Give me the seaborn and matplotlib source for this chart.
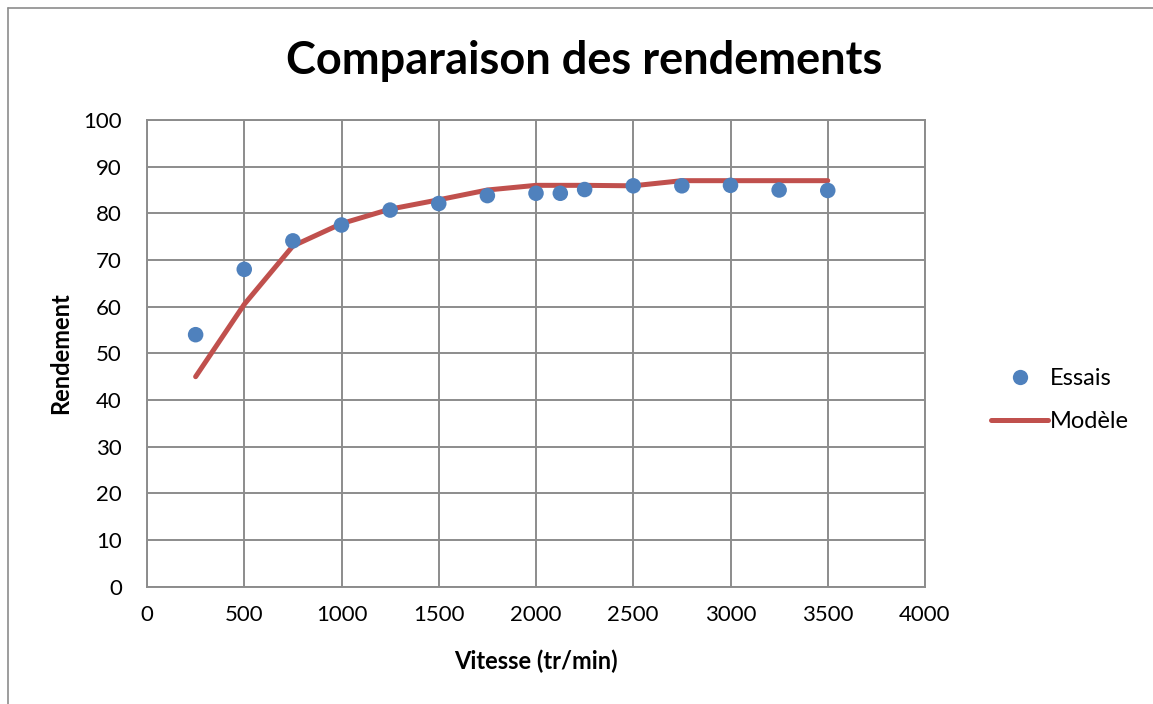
import matplotlib
matplotlib.use("Agg")
import matplotlib.pyplot as plt
import seaborn as sns
import pandas as pd
from matplotlib.lines import Line2D

# Measured efficiency (tests)
essais_vitesse = [250, 500, 750, 1000, 1250, 1500, 1750, 2000, 2125, 2250, 2500, 2750, 3000, 3250, 3500]
essais_rendement = [54.0, 68.0, 74.1, 77.5, 80.7, 82.1, 83.8, 84.3, 84.3, 85.1, 85.9, 85.9, 86.0, 85.0, 84.9]

# Model efficiency
modele_vitesse = [250, 500, 750, 1000, 1250, 1500, 1750, 2000, 2250, 2500, 2750, 3000, 3250, 3500]
modele_rendement = [45.0, 60.5, 73.0, 77.8, 80.9, 82.9, 85.0, 86.0, 86.0, 85.9, 87.0, 87.0, 87.0, 87.0]

x_ticks = [0, 500, 1000, 1500, 2000, 2500, 3000, 3500, 4000]
y_ticks = list(range(0, 101, 10))

sns.set_theme(style="white")
plt.rcParams["font.family"] = ["Lato", "DejaVu Sans"]
plt.rcParams["text.color"] = "black"

blue = "#4F81BD"
red = "#C0504D"
grid_c = "#8C8C8C"

fig = plt.figure(figsize=(11.53, 7.04), dpi=100)
ax = fig.add_axes([147 / 1153, 1 - 586.7 / 704, (925 - 147) / 1153, (586.7 - 120) / 704])

df_e = pd.DataFrame({"Vitesse": essais_vitesse, "Rendement": essais_rendement})
df_m = pd.DataFrame({"Vitesse": modele_vitesse, "Rendement": modele_rendement})

sns.lineplot(data=df_m, x="Vitesse", y="Rendement", ax=ax, color=red,
             linewidth=3.6, solid_capstyle="round", zorder=3)
sns.scatterplot(data=df_e, x="Vitesse", y="Rendement", ax=ax, color=blue,
                s=125, edgecolor="none", zorder=4)

ax.set_xlim(0, 4000)
ax.set_ylim(0, 100)
ax.set_xticks(x_ticks)
ax.set_yticks(y_ticks)
ax.grid(True, color=grid_c, linewidth=1.4)
ax.set_axisbelow(True)
for s in ax.spines.values():
    s.set_color(grid_c)
    s.set_linewidth(1.4)
ax.tick_params(axis="both", length=0, labelsize=16, colors="black")
ax.tick_params(axis="x", pad=13)
ax.tick_params(axis="y", pad=18)

ax.set_xlabel("Vitesse (tr/min)", fontsize=17, fontweight="bold", labelpad=18, color="black")
ax.set_ylabel("Rendement", fontsize=17, fontweight="bold", labelpad=8, color="black")

fig.text(584 / 1153, 1 - 61 / 704, "Comparaison des rendements", ha="center", va="center",
         fontsize=32.5, fontweight="bold", color="black")

handles = [
    Line2D([], [], marker="o", linestyle="none", color=blue, markersize=11, markeredgewidth=0),
    Line2D([], [], color=red, linewidth=3.6, solid_capstyle="round"),
]
fig.legend(handles, ["Essais", "Modèle"], loc="center left",
           bbox_to_anchor=(970 / 1153, 1 - 400 / 704), frameon=False,
           fontsize=17, handlelength=2.4, labelspacing=0.95, handletextpad=0.1)

# Chart frame
fig.add_artist(Line2D([8 / 1153, 8 / 1153], [0, 1 - 8 / 704], transform=fig.transFigure,
                      color="#8C8C8C", linewidth=1.2))
fig.add_artist(Line2D([8 / 1153, 1], [1 - 8 / 704, 1 - 8 / 704], transform=fig.transFigure,
                      color="#8C8C8C", linewidth=1.2))

fig.savefig("out.png", dpi=100)
